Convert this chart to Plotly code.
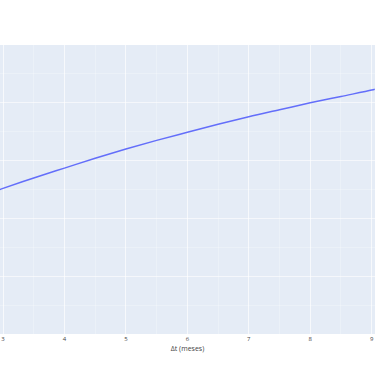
import plotly.graph_objects as go

# Δt (meses) and the plotted value (y; y axis labels hidden)
dt_meses = [2.95, 3.0, 3.5, 4.0, 4.5, 5.0, 5.5, 6.0, 6.5, 7.0, 7.5, 8.0, 8.5, 9.0, 9.05]
valores = [2.50, 2.52, 2.70, 2.87, 3.04, 3.20, 3.35, 3.49, 3.63, 3.76, 3.88, 4.00, 4.11, 4.22, 4.235]

x_ticks = [3, 4, 5, 6, 7, 8, 9]

fig = go.Figure()
fig.add_trace(go.Scatter(x=dt_meses, y=valores, mode="lines",
                         line=dict(color="#636efa", width=1.5, shape="spline", smoothing=1.0),
                         showlegend=False))

fig.update_layout(
    template="plotly",
    width=375, height=366,
    margin=dict(l=0, r=0, t=45, b=32),
    paper_bgcolor="white",
    plot_bgcolor="#E5ECF6",
    font=dict(family="Open Sans, Arial, sans-serif", size=6, color="#444"),
)
fig.update_xaxes(
    range=[2.951, 9.054],
    tickvals=x_ticks,
    ticktext=[str(v) for v in x_ticks],
    tickfont=dict(size=6),
    ticklen=0,
    title=dict(text="Δt (meses)", font=dict(size=7), standoff=4),
    gridcolor="rgba(255,255,255,0.6)", gridwidth=1,
    minor=dict(dtick=0.5, showgrid=True, gridcolor="rgba(255,255,255,0.25)", gridwidth=1),
    zeroline=False,
)
fig.update_yaxes(
    range=[0, 5],
    dtick=1,
    showticklabels=False,
    gridcolor="rgba(255,255,255,0.6)", gridwidth=1,
    minor=dict(dtick=0.5, showgrid=True, gridcolor="rgba(255,255,255,0.25)", gridwidth=1),
    zeroline=False,
)

fig.write_html("out.html")
